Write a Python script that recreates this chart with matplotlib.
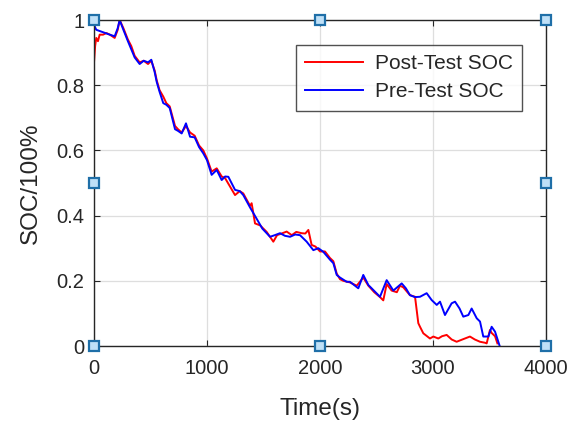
import matplotlib
matplotlib.use("Agg")
import matplotlib.pyplot as plt

plt.rcParams['font.family'] = ['Liberation Sans', 'DejaVu Sans']

# Pre-test SOC trace
pre_t = [0, 20, 60, 100, 140, 183, 210, 227, 260, 300, 330, 360, 404, 440, 478,
         507, 537, 555, 580, 613, 640, 670, 717, 743, 776, 814, 850, 891, 930,
         967, 1000, 1041, 1086, 1130, 1160, 1189, 1248, 1290, 1321, 1381, 1440,
         1490, 1528, 1558, 1600, 1646, 1690, 1735, 1780, 1823, 1882, 1941, 1985,
         2029, 2088, 2118, 2148, 2177, 2236, 2265, 2339, 2383, 2428, 2457, 2531,
         2590, 2649, 2723, 2760, 2796, 2840, 2885, 2944, 2988, 3033, 3062, 3106,
         3165, 3195, 3235, 3268, 3313, 3342, 3387, 3416, 3445, 3490, 3519, 3549,
         3578, 3590]
pre_soc = [0.985, 0.97, 0.965, 0.96, 0.955, 0.95, 0.975, 1.0, 0.97, 0.935, 0.91,
           0.885, 0.865, 0.875, 0.87, 0.878, 0.84, 0.81, 0.78, 0.745, 0.74, 0.73,
           0.665, 0.66, 0.652, 0.683, 0.642, 0.64, 0.61, 0.591, 0.57, 0.525, 0.54,
           0.509, 0.52, 0.519, 0.479, 0.475, 0.463, 0.425, 0.39, 0.36, 0.346,
           0.335, 0.34, 0.346, 0.338, 0.335, 0.342, 0.34, 0.32, 0.294, 0.30,
           0.289, 0.265, 0.254, 0.218, 0.21, 0.197, 0.197, 0.177, 0.218, 0.187,
           0.177, 0.151, 0.202, 0.17, 0.192, 0.177, 0.156, 0.15, 0.151, 0.162,
           0.141, 0.126, 0.136, 0.095, 0.131, 0.136, 0.115, 0.090, 0.095, 0.115,
           0.085, 0.075, 0.029, 0.029, 0.059, 0.044, 0.013, 0.0]

# Post-test SOC trace
post_t = [0, 10, 20, 35, 50, 80, 110, 140, 183, 210, 227, 260, 300, 330, 360,
          404, 440, 478, 507, 537, 555, 580, 613, 640, 670, 717, 743, 776, 814,
          850, 891, 930, 967, 1000, 1041, 1086, 1130, 1160, 1204, 1248, 1290,
          1321, 1381, 1395, 1425, 1470, 1528, 1587, 1620, 1660, 1705, 1750, 1790,
          1838, 1870, 1897, 1926, 1960, 2000, 2044, 2088, 2118, 2148, 2177, 2206,
          2265, 2325, 2383, 2428, 2480, 2531, 2560, 2590, 2634, 2680, 2708, 2737,
          2796, 2841, 2870, 2885, 2914, 2973, 3003, 3047, 3080, 3121, 3165, 3209,
          3260, 3327, 3370, 3416, 3460, 3475, 3504, 3519, 3549, 3570]
post_soc = [0.87, 0.92, 0.945, 0.935, 0.955, 0.955, 0.96, 0.955, 0.945, 0.97,
            1.0, 0.975, 0.94, 0.92, 0.89, 0.87, 0.875, 0.865, 0.875, 0.845,
            0.815, 0.785, 0.765, 0.745, 0.735, 0.675, 0.665, 0.655, 0.675, 0.655,
            0.645, 0.615, 0.60, 0.575, 0.535, 0.545, 0.52, 0.515, 0.489, 0.463,
            0.475, 0.468, 0.43, 0.438, 0.376, 0.37, 0.35, 0.32, 0.34, 0.345,
            0.351, 0.34, 0.35, 0.346, 0.345, 0.356, 0.31, 0.305, 0.29, 0.29,
            0.27, 0.26, 0.222, 0.205, 0.20, 0.195, 0.185, 0.21, 0.185, 0.165,
            0.15, 0.14, 0.19, 0.17, 0.165, 0.185, 0.18, 0.156, 0.151, 0.07,
            0.059, 0.039, 0.023, 0.029, 0.023, 0.03, 0.034, 0.02, 0.013, 0.02,
            0.029, 0.02, 0.013, 0.01, 0.008, 0.049, 0.04, 0.03, 0.008]

x_ticks = [0, 1000, 2000, 3000, 4000]
y_ticks = [0, 0.2, 0.4, 0.6, 0.8, 1]
y_tick_labels = ['0', '0.2', '0.4', '0.6', '0.8', '1']

fig = plt.figure(figsize=(5.71, 4.29), dpi=100)
ax = fig.add_axes([94 / 571, 1 - 346 / 429, 452 / 571, 326 / 429])

ax.plot(post_t, post_soc, color='#ff0000', lw=1.4, label='Post-Test SOC')
ax.plot(pre_t, pre_soc, color='#0000ff', lw=1.4, label='Pre-Test SOC')

ax.set_xlim(0, 4000)
ax.set_ylim(0, 1)
ax.set_xticks(x_ticks)
ax.set_yticks(y_ticks)
ax.set_yticklabels(y_tick_labels)
ax.grid(True, color='#dedede', lw=0.9)
ax.set_axisbelow(True)
ax.tick_params(direction='in', top=True, right=True, length=4, width=0.8,
               labelsize=14.5, colors='#262626')
ax.tick_params(axis='x', pad=9)
ax.tick_params(axis='y', pad=7)
for s in ax.spines.values():
    s.set_color('#262626')
    s.set_linewidth(1.0)

ax.set_xlabel('Time(s)', fontsize=17.5, color='#262626', labelpad=15)
ax.set_ylabel('SOC/100%', fontsize=17.5, color='#262626', labelpad=10)

leg = ax.legend(loc='upper right', bbox_to_anchor=(0.947, 0.923), fontsize=15,
                frameon=True, fancybox=False, edgecolor='#262626',
                handlelength=2.8, handletextpad=0.55, borderpad=0.45,
                labelspacing=0.42, borderaxespad=0)
leg.get_frame().set_linewidth(1.0)
for t in leg.get_texts():
    t.set_color('#262626')

# selection handles around the axes box
hx = [0, 0.5, 1, 0, 1, 0, 0.5, 1]
hy = [1, 1, 1, 0.5, 0.5, 0, 0, 0]
ax.plot(hx, hy, linestyle='none', marker='s', markersize=7.5,
        markerfacecolor='#bfe0f7', markeredgecolor='#1f6fa8',
        markeredgewidth=1.6, transform=ax.transAxes, clip_on=False, zorder=10)

fig.savefig('out.png', dpi=100)
